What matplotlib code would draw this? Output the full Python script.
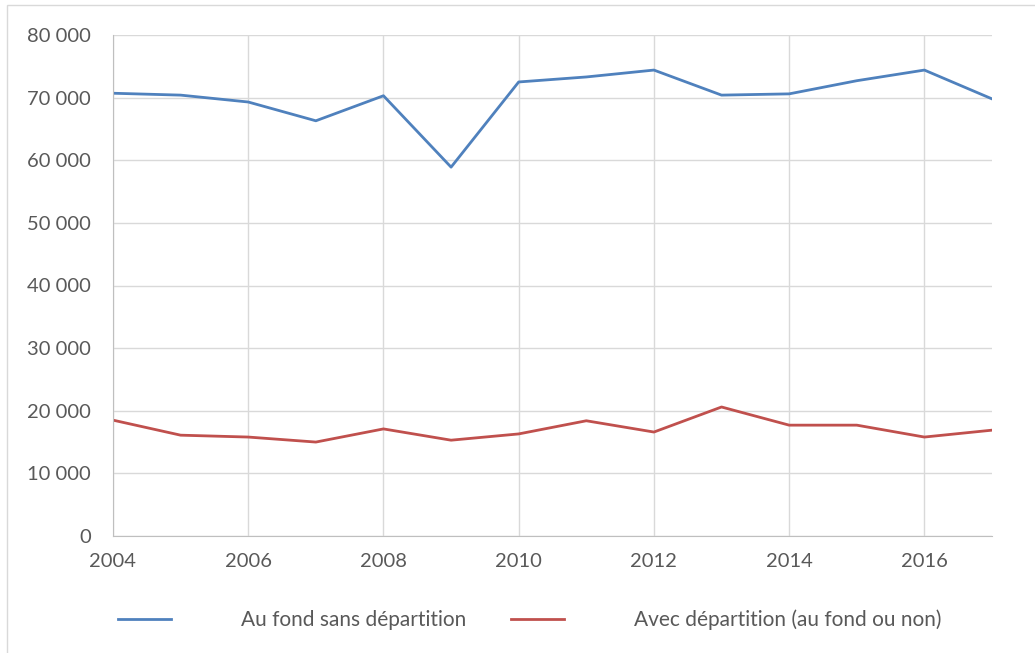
import matplotlib
matplotlib.use("Agg")
import matplotlib.pyplot as plt
from matplotlib.patches import Rectangle
from matplotlib.ticker import FuncFormatter

years = list(range(2004, 2018))
au_fond = [70700, 70400, 69300, 66300, 70300, 58900, 72500,
           73300, 74400, 70400, 70600, 72700, 74400, 69800]
avec_departition = [18500, 16100, 15800, 15000, 17100, 15300, 16300,
                    18400, 16600, 20600, 17700, 17700, 15800, 16900]
labels = ["Au fond sans départition", "Avec départition (au fond ou non)"]

plt.rcParams["font.family"] = ["Lato", "DejaVu Sans"]

fig = plt.figure(figsize=(10.35, 6.53), dpi=100)
# outer chart border
fig.patches.append(Rectangle((7 / 1035, -0.1), 1.2, 1 - 5 / 653 + 0.1,
                             transform=fig.transFigure, fill=False,
                             edgecolor="#D9D9D9", linewidth=1))

ax = fig.add_axes([113 / 1035, 1 - 536 / 653, 879 / 1035, 501 / 653])
ax.plot(years, au_fond, color="#4F81BD", linewidth=2, label=labels[0])
ax.plot(years, avec_departition, color="#C0504D", linewidth=2, label=labels[1])

ax.set_xlim(2004, 2017)
ax.set_ylim(0, 80000)
ax.set_xticks(range(2004, 2017, 2))
ax.set_yticks(range(0, 80001, 10000))
ax.yaxis.set_major_formatter(FuncFormatter(lambda v, p: f"{int(v):,}".replace(",", " ")))
ax.grid(True, color="#D9D9D9", linewidth=1)
ax.set_axisbelow(True)
for s in ["top", "right"]:
    ax.spines[s].set_visible(False)
for s in ["left", "bottom"]:
    ax.spines[s].set_color("#BFBFBF")
ax.tick_params(length=0, labelsize=14.5, colors="#595959")
ax.tick_params(axis="y", pad=16)
ax.tick_params(axis="x", pad=12)

fig.legend(loc="center", bbox_to_anchor=(0.512, 1 - 620 / 653), ncol=2,
           frameon=False, fontsize=15, handlelength=2.55, handletextpad=3.35,
           columnspacing=2.15, labelcolor="#595959")

fig.savefig("out.png", dpi=100)
